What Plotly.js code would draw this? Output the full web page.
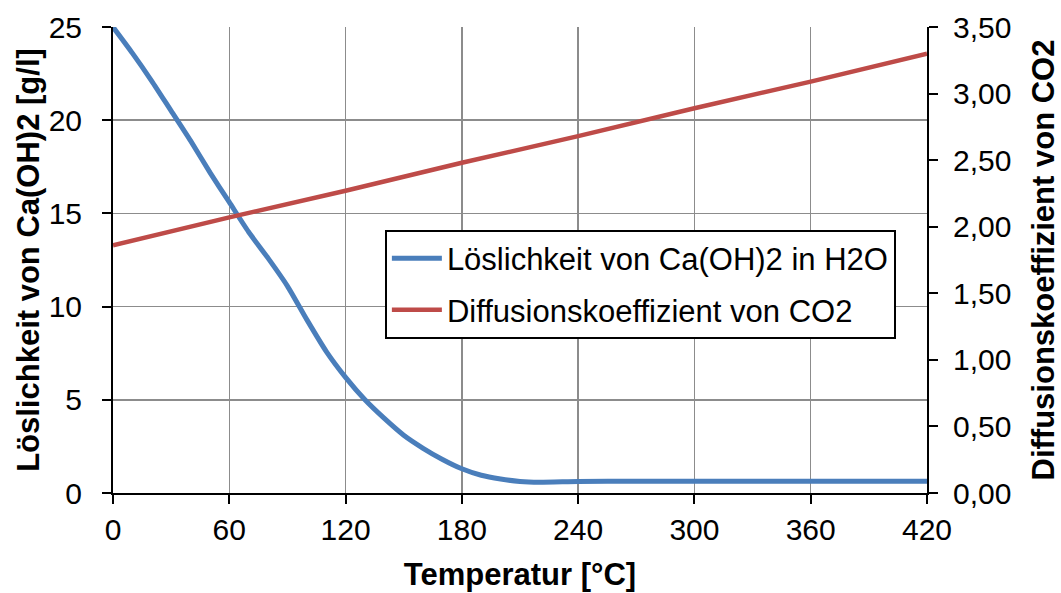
<!DOCTYPE html>
<html>
<head>
<meta charset="utf-8">
<script src="https://cdn.plot.ly/plotly-3.0.1.min.js"></script>
<style>
  html, body { margin: 0; padding: 0; background: #fff; }
  #chart { width: 1061px; height: 593px; }
</style>
</head>
<body>
<div id="chart"></div>
<script>
// Solubility of Ca(OH)2 in water [g/l] over temperature [°C]
const tempSolubility = [0, 10, 20, 30, 40, 50, 60, 70, 80, 90, 100, 110, 120, 130, 140, 150, 160, 170, 180, 190, 200, 210, 220, 240, 270, 300, 330, 360, 390, 420];
const solubility     = [25, 23.6, 22.1, 20.5, 18.9, 17.2, 15.6, 14.0, 12.6, 11.1, 9.3, 7.6, 6.2, 5.0, 4.0, 3.1, 2.4, 1.8, 1.3, 0.95, 0.75, 0.62, 0.58, 0.62, 0.63, 0.63, 0.63, 0.63, 0.63, 0.63];

// Diffusion coefficient of CO2 over temperature
const tempDiffusion = [0, 60, 120, 180, 240, 300, 360, 420];
const diffusion     = [1.86, 2.07, 2.27, 2.48, 2.68, 2.89, 3.09, 3.30];

const seriesNames = ['Löslichkeit von Ca(OH)2 in H2O', 'Diffusionskoeffizient von CO2'];
const xTicks = [0, 60, 120, 180, 240, 300, 360, 420];
const yLeftTicks = [0, 5, 10, 15, 20, 25];
const yRightTicks = [0, 0.5, 1, 1.5, 2, 2.5, 3, 3.5];

const font = 'Liberation Sans, Arial, sans-serif';
const tickSize = 30;
const titleSize = 31;

const traces = [
  {
    x: tempSolubility, y: solubility, name: seriesNames[0],
    type: 'scatter', mode: 'lines',
    line: { color: '#4A7EBB', width: 5, shape: 'spline', smoothing: 0.6 },
    yaxis: 'y', legendgroup: 'a'
  },
  {
    x: tempDiffusion, y: diffusion, name: seriesNames[1],
    type: 'scatter', mode: 'lines',
    line: { color: '#BE4B48', width: 4.5 },
    yaxis: 'y2', legendgroup: 'b'
  }
];

const layout = {
  width: 1061, height: 593,
  margin: { l: 113, r: 134, t: 27, b: 100 },
  paper_bgcolor: '#fff', plot_bgcolor: '#fff',
  separators: ',.',
  showlegend: true,
  font: { family: font, size: tickSize, color: '#000' },
  legend: {
    x: 0.334, y: 0.565, xanchor: 'left', yanchor: 'top',
    bgcolor: '#fff', bordercolor: '#000', borderwidth: 2,
    font: { family: font, size: 31, color: '#000' },
    traceorder: 'grouped', tracegroupgap: 8, itemwidth: 50
  },
  xaxis: {
    range: [0, 420], tickvals: xTicks, ticktext: xTicks.map(String),
    showgrid: true, gridcolor: '#8c8c8c', gridwidth: 1.5,
    zeroline: false, showline: true, linecolor: '#000', linewidth: 2,
    ticks: 'outside', ticklen: 9, tickwidth: 2, tickcolor: '#000',
    tickfont: { family: font, size: tickSize },
    title: { text: '<b>Temperatur [°C]</b>', font: { family: font, size: titleSize }, standoff: 18 }
  },
  yaxis: {
    range: [0, 25], tickvals: yLeftTicks,
    showgrid: true, gridcolor: '#8c8c8c', gridwidth: 1.5,
    zeroline: false, showline: true, linecolor: '#000', linewidth: 2,
    ticks: 'outside', ticklen: 9, tickwidth: 2, tickcolor: '#000',
    ticklabelstandoff: 14,
    tickfont: { family: font, size: tickSize },
    title: { text: '<b>Löslichkeit von Ca(OH)2 [g/l]</b>', font: { family: font, size: titleSize }, standoff: 0 }
  },
  yaxis2: {
    range: [0, 3.5], tickvals: yRightTicks, tickformat: '.2f',
    overlaying: 'y', side: 'right',
    showgrid: false, zeroline: false, showline: true, linecolor: '#000', linewidth: 2,
    ticks: 'outside', ticklen: 9, tickwidth: 2, tickcolor: '#000',
    ticklabelstandoff: 9,
    tickfont: { family: font, size: tickSize },
    title: { text: '<b>Diffusionskoeffizient von CO2</b>', font: { family: font, size: titleSize }, standoff: 22 }
  }
};

Plotly.newPlot('chart', traces, layout, { displayModeBar: false, staticPlot: true });
</script>
</body>
</html>
